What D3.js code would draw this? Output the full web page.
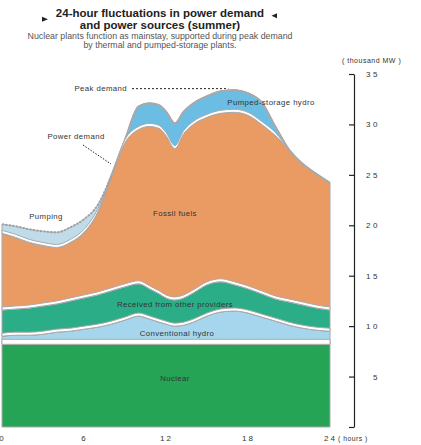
<!DOCTYPE html>
<meta charset="utf-8">
<head>
<style>
  body { margin: 0; background: #fff; }
  svg { display: block; font-family: "Liberation Sans", Arial, sans-serif; }
</style>
</head>
<body>
<script src="https://d3js.org/d3.v7.min.js"></script>
<svg width="421" height="445"></svg>
<script>
// hour of day (a few extra points around the midday peaks)
var hours = [0, 1, 2, 3, 4, 5, 6, 7, 8, 9, 10, 10.8, 11.5, 12, 12.65, 13.3, 14, 15, 16, 17, 18, 19, 20, 21, 22, 23, 24];

// thousand MW for each source, bottom to top
var nuclear = [8.2, 8.2, 8.2, 8.2, 8.2, 8.2, 8.2, 8.2, 8.2, 8.2, 8.2, 8.2, 8.2, 8.2, 8.2, 8.2, 8.2, 8.2, 8.2, 8.2, 8.2, 8.2, 8.2, 8.2, 8.2, 8.2, 8.2];
var hydro = [0.8, 0.9, 0.9, 1.0, 1.2, 1.3, 1.5, 1.7, 2.0, 2.4, 2.8, 2.5, 2.2, 2.0, 1.8, 1.9, 2.2, 2.8, 3.2, 3.3, 3.1, 2.7, 2.3, 1.9, 1.6, 1.4, 1.3];
var received = [2.6, 2.6, 2.7, 2.8, 2.8, 3.0, 3.1, 3.2, 3.3, 3.3, 3.2, 3.0, 2.8, 2.6, 2.6, 2.7, 2.9, 3.1, 3.0, 2.6, 2.4, 2.3, 2.2, 2.3, 2.3, 2.2, 2.1];
var fossil = [7.6, 7.1, 6.5, 6.0, 5.6, 5.8, 6.5, 8.2, 11.4, 14.3, 15.3, 16.1, 16.4, 16.1, 15.0, 16.3, 16.7, 16.6, 16.7, 17.1, 17.2, 16.8, 16.2, 15.1, 14.0, 13.3, 12.6];
var pumpedStorage = [0, 0, 0, 0, 0, 0, 0, 0, 0, 0.3, 2.3, 2.3, 2.3, 2.4, 2.5, 2.2, 2.1, 2.1, 2.2, 2.2, 2.2, 2.2, 0.9, 0, 0, 0, 0];
var pumping = [0.9, 1.1, 1.3, 1.4, 1.5, 1.5, 1.3, 0.7, 0, 0, 0, 0, 0, 0, 0, 0, 0, 0, 0, 0, 0, 0, 0, 0, 0, 0, 0];

var xTicks = [0, 6, 12, 18, 24];
var yTicks = [0, 5, 10, 15, 20, 25, 30, 35];

var svg = d3.select("svg");

var x = d3.scaleLinear().domain([0, 24]).range([2, 330]);
var y = d3.scaleLinear().domain([0, 35]).range([427, 74]);

var keys = ["nuclear", "hydro", "received", "fossil", "pumped", "pumping"];
var colors = {
    nuclear: "#26a456",
    hydro: "#a5d6ee",
    received: "#2bae88",
    fossil: "#ea9b63",
    pumped: "#6bbde3",
    pumping: "#c0dcea"
};

var rows = hours.map(function (h, i) {
    return {
        hour: h, nuclear: nuclear[i], hydro: hydro[i], received: received[i],
        fossil: fossil[i], pumped: pumpedStorage[i], pumping: pumping[i]
    };
});
var series = d3.stack().keys(keys)(rows);

var curve = d3.curveMonotoneX;

var area = d3.area().curve(curve)
    .x(function (d) { return x(d.data.hour); })
    .y0(function (d) { return y(d[0]); })
    .y1(function (d) { return y(d[1]); });

var chart = svg.append("g");

chart.selectAll(".layer")
    .data(series)
    .enter().append("path")
    .attr("class", "layer")
    .attr("d", area)
    .attr("fill", function (d) { return colors[d.key]; })
    .attr("stroke", "#a9a9a9")
    .attr("stroke-width", 1);

// solid demand outline (top of pumped-storage)
var topLine = d3.line().curve(curve)
    .x(function (d) { return x(d.data.hour); })
    .y(function (d) { return y(d[1]); });

chart.append("path")
    .attr("d", topLine(series[4]))
    .attr("fill", "none")
    .attr("stroke", "#a9a9a9")
    .attr("stroke-width", 2);

// white separators between layers, sitting just inside the upper layer
[[0, 1, 5], [1, 2, 3], [2, 3, 3], [3, 5, 3]].forEach(function (b) {
    var pts = hours.map(function (h, i) {
        var yb = y(series[b[0]][i][1]);
        var yt = y(series[b[1]][i][1]);
        return { x: x(h), yb: yb, yt: yb - Math.min(b[2], yb - yt) };
    });
    chart.append("path")
        .attr("d", d3.area().curve(curve)
            .x(function (p) { return p.x; })
            .y0(function (p) { return p.yb; })
            .y1(function (p) { return p.yt; })(pts))
        .attr("fill", "#fff")
        .attr("stroke", "#a9a9a9")
        .attr("stroke-width", 1);
});

// dotted top of the night-time pumping band
chart.append("path")
    .attr("d", d3.line().curve(curve)
        .defined(function (d, i) { return pumping[i] > 0 || (i > 0 && pumping[i - 1] > 0); })
        .x(function (d) { return x(d.data.hour); })
        .y(function (d) { return y(d[1]); })(series[5]))
    .attr("fill", "none")
    .attr("stroke", "#a0a0a0")
    .attr("stroke-width", 2)
    .attr("stroke-dasharray", "2,1.5");

// right axis
var yAxis = svg.append("g")
    .attr("transform", "translate(354,0)")
    .call(d3.axisRight(y).tickValues(yTicks).tickSizeInner(-5).tickSizeOuter(0).tickPadding(26)
        .tickFormat(function (d) { return d === 0 ? "" : d; }));
yAxis.select(".domain").attr("stroke", "#222").attr("stroke-width", 1.2);
yAxis.selectAll(".tick line").attr("stroke", "#222").attr("stroke-width", 1.2);
yAxis.selectAll("text")
    .attr("text-anchor", "end")
    .attr("font-size", "8px")
    .attr("letter-spacing", "2.5px")
    .attr("fill", "#333")
    .attr("font-family", "Liberation Sans, Arial, sans-serif");

svg.append("text")
    .attr("x", 342).attr("y", 63)
    .attr("font-size", "7px").attr("letter-spacing", "0.5px").attr("fill", "#333")
    .text("( thousand MW )");

// bottom axis
var xAxis = svg.append("g")
    .attr("transform", "translate(0,431)")
    .call(d3.axisBottom(x).tickValues(xTicks).tickSize(0).tickPadding(4));
xAxis.select(".domain").remove();
xAxis.selectAll("text")
    .attr("font-size", "8px")
    .attr("letter-spacing", "2px")
    .attr("fill", "#333")
    .attr("font-family", "Liberation Sans, Arial, sans-serif");

svg.append("text")
    .attr("x", 338).attr("y", 441)
    .attr("font-size", "6.8px").attr("letter-spacing", "0.5px").attr("fill", "#333")
    .text("( hours )");

// title
svg.append("text")
    .attr("x", 160).attr("y", 17)
    .attr("text-anchor", "middle")
    .attr("font-size", "11.5px").attr("font-weight", "bold").attr("fill", "#222")
    .text("24-hour fluctuations in power demand");
svg.append("text")
    .attr("x", 160).attr("y", 29)
    .attr("text-anchor", "middle")
    .attr("font-size", "11.5px").attr("font-weight", "bold").attr("fill", "#222")
    .text("and power sources (summer)");
svg.append("path").attr("d", "M42,16.7L48,19.2L42,21.7Z").attr("fill", "#222");
svg.append("path").attr("d", "M277,13.3L271.5,15.8L277,18.3Z").attr("fill", "#222");

svg.append("text")
    .attr("x", 160).attr("y", 38.5)
    .attr("text-anchor", "middle")
    .attr("font-size", "8.8px").attr("fill", "#555")
    .text("Nuclear plants function as mainstay, supported during peak demand");
svg.append("text")
    .attr("x", 160).attr("y", 48)
    .attr("text-anchor", "middle")
    .attr("font-size", "8.8px").attr("fill", "#555")
    .text("by thermal and pumped-storage plants.");

// annotations
var total = rows.map(function (r) { return d3.sum(keys, function (k) { return r[k]; }); });
var peakIndex = d3.maxIndex(total);
var peakY = y(total[peakIndex]) - 1.5;

svg.append("line")
    .attr("x1", 132).attr("x2", x(hours[peakIndex]) - 6)
    .attr("y1", peakY).attr("y2", peakY)
    .attr("stroke", "#222").attr("stroke-width", 1).attr("stroke-dasharray", "2,2");

svg.append("line")
    .attr("x1", 83).attr("y1", 145).attr("x2", 111).attr("y2", 164)
    .attr("stroke", "#222").attr("stroke-width", 1).attr("stroke-dasharray", "1.5,1.5");

var labels = [
    { t: "Peak demand", x: 127, y: peakY + 2.5, a: "end" },
    { t: "Power demand", x: 76, y: 139, a: "middle" },
    { t: "Pumping", x: 46, y: 219, a: "middle" },
    { t: "Fossil fuels", x: 175, y: 216, a: "middle" },
    { t: "Pumped-storage hydro", x: 271, y: 105, a: "middle" },
    { t: "Received from other providers", x: 175, y: 307, a: "middle" },
    { t: "Conventional hydro", x: 177, y: 336, a: "middle" },
    { t: "Nuclear", x: 175, y: 381, a: "middle" }
];
svg.selectAll(".lab")
    .data(labels)
    .enter().append("text")
    .attr("class", "lab")
    .attr("x", function (d) { return d.x; })
    .attr("y", function (d) { return d.y; })
    .attr("text-anchor", function (d) { return d.a; })
    .attr("font-size", "7.8px")
    .attr("letter-spacing", "0.4px")
    .attr("fill", "#333")
    .text(function (d) { return d.t; });
</script>
</body>
</html>
